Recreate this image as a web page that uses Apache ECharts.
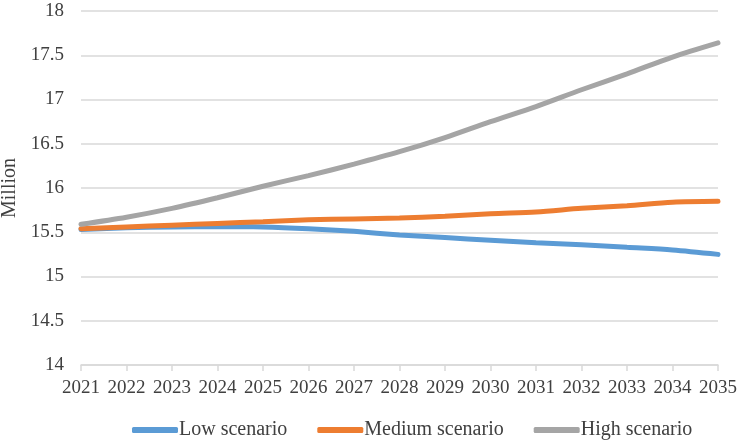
<!DOCTYPE html>
<html>
<head>
<meta charset="utf-8">
<script src="https://cdn.jsdelivr.net/npm/echarts@6/dist/echarts.min.js"></script>
<style>html,body{margin:0;padding:0;background:#fff;}#c{width:739px;height:441px;}</style>
</head>
<body>
<div id="c"></div>
<script>
const years = ['2021','2022','2023','2024','2025','2026','2027','2028','2029','2030','2031','2032','2033','2034','2035'];
const lowScenario = [15.53,15.55,15.56,15.565,15.56,15.54,15.51,15.47,15.44,15.41,15.38,15.36,15.33,15.30,15.25];
const mediumScenario = [15.54,15.56,15.58,15.60,15.62,15.64,15.65,15.66,15.68,15.71,15.73,15.77,15.80,15.84,15.85];
const highScenario = [15.59,15.67,15.77,15.89,16.02,16.14,16.27,16.41,16.57,16.75,16.92,17.11,17.29,17.48,17.64];

const font = 'Liberation Serif, Times New Roman, serif';
const txt = '#404040';
const chart = echarts.init(document.getElementById('c'));
chart.setOption({
  animation: false,
  textStyle: {fontFamily: font},
  grid: {left: 81, right: 21, top: 11, bottom: 76, containLabel: false, outerBoundsMode: 'none'},
  legend: {
    top: 420, left: 132, padding: 0,
    itemWidth: 46, itemHeight: 6, itemGap: 30,
    icon: 'roundRect',
    textStyle: {fontFamily: font, fontSize: 20, color: txt, padding:[0,0,0,-4]},
    data: ['Low scenario','Medium scenario','High scenario']
  },
  xAxis: {
    type: 'category', data: years, boundaryGap: false,
    axisLine: {lineStyle: {color: '#d9d9d9', width: 1.5}},
    axisTick: {show: true, length: 6, lineStyle: {color: '#d9d9d9', width: 1.5}},
    axisLabel: {fontFamily: font, fontSize: 19, color: txt, margin: 14, interval: 0}
  },
  yAxis: {
    type: 'value', min: 14, max: 18, interval: 0.5,
    name: 'Million', nameLocation: 'middle', nameGap: 57, nameRotate: 90,
    nameTextStyle: {fontFamily: font, fontSize: 20, color: txt},
    axisLine: {show: false}, axisTick: {show: false},
    splitLine: {lineStyle: {color: '#d9d9d9', width: 1.5}},
    axisLabel: {fontFamily: font, fontSize: 19, color: txt, margin: 17}
  },
  series: [
    {name: 'Low scenario', type: 'line', data: lowScenario, smooth: 0.3, symbol: 'none',
     lineStyle: {width: 5, color: '#5B9BD5', cap: 'round'}, itemStyle: {color: '#5B9BD5'}},
    {name: 'Medium scenario', type: 'line', data: mediumScenario, smooth: 0.3, symbol: 'none',
     lineStyle: {width: 5, color: '#ED7D31', cap: 'round'}, itemStyle: {color: '#ED7D31'}},
    {name: 'High scenario', type: 'line', data: highScenario, smooth: 0.3, symbol: 'none',
     lineStyle: {width: 5, color: '#A5A5A5', cap: 'round'}, itemStyle: {color: '#A5A5A5'}}
  ]
});
</script>
</body>
</html>
